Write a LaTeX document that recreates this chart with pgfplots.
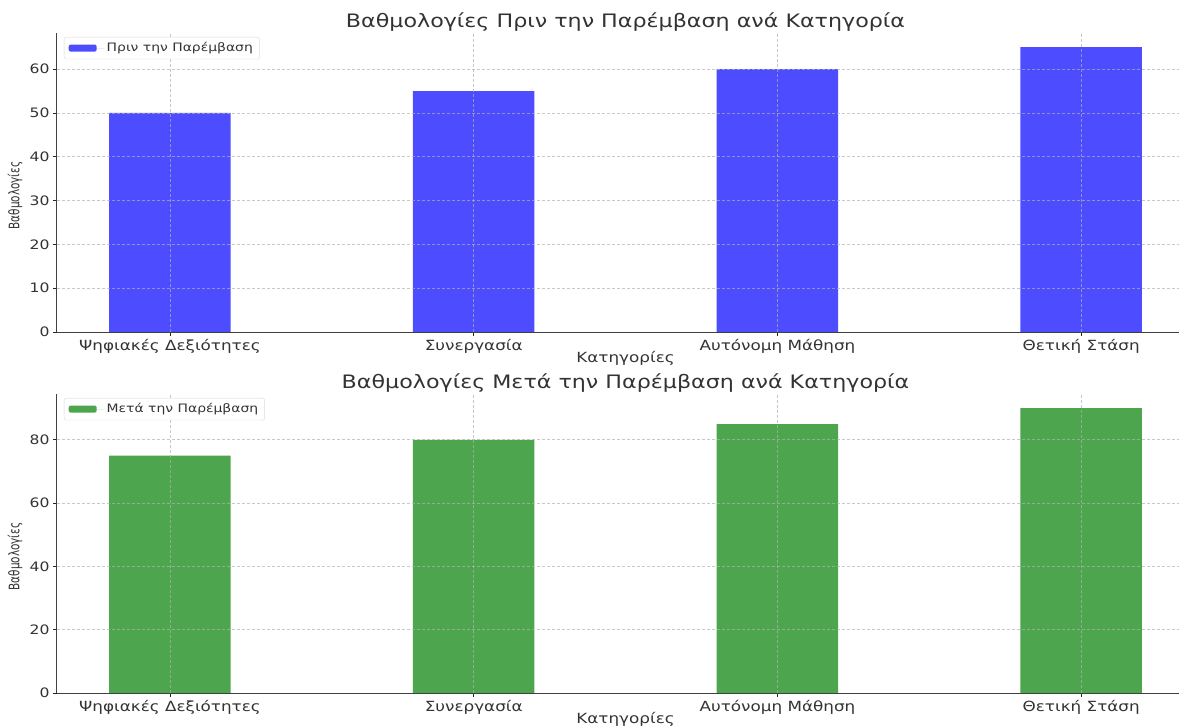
\documentclass[border=0pt]{standalone}
\usepackage{fontspec}
\setmainfont{DejaVu Sans}[FakeStretch=1.2]
\usepackage{graphicx}
\usepackage{pgfplots}
\pgfplotsset{compat=1.18}

\definecolor{barblue}{RGB}{77,77,255}
\definecolor{bargreen}{RGB}{77,166,77}
\definecolor{gridc}{RGB}{176,176,176}
\definecolor{txt}{RGB}{51,51,51}

\pgfplotsset{
  mystyle/.style={
    scale only axis, width=1122pt, height=299pt,
    xmin=-0.372, xmax=3.322, ymin=0,
    axis x line*=bottom, axis y line*=left,
    axis line style={black!75, line width=1pt},
    xtick={0,1,2,3},
    xticklabels={Ψηφιακές Δεξιότητες, Συνεργασία, Αυτόνομη Μάθηση, Θετική Στάση},
    tick style={black!85, line width=0.8pt},
    tick align=outside, major tick length=4pt,
    grid=major,
    major grid style={gridc, opacity=0.7, dash pattern=on 3pt off 2pt, line width=0.8pt},
    axis on top,
    tick label style={font=\fontsize{13}{15}\selectfont, text=txt},
    xticklabel style={font=\fontsize{14}{16}\selectfont},
    /pgf/number format/assume math mode=true,
    title style={at={(axis description cs:0.5,1)}, anchor=base, xshift=7.5pt, yshift=-1pt, font=\fontsize{18.5}{21}\selectfont, text=txt},
    xlabel style={at={(axis description cs:0.5,0)}, anchor=base, xshift=7.5pt, yshift=-30pt, font=\fontsize{14}{16}\selectfont, text=txt},
    every axis y label/.style={at={([xshift=-42pt,yshift=-13pt]axis description cs:0,0.5)}, rotate=90, anchor=center, font=\fontsize{14.5}{16}\selectfont, text=txt},
    legend style={at={(axis description cs:0,1)}, anchor=north west, xshift=7pt, yshift=-4pt,
      rounded corners=2pt, draw=black!15, fill=white,
      font=\fontsize{11.6}{14}\selectfont, text=txt, inner xsep=4.5pt, inner ysep=3.5pt},
    legend image code/.code={\fill[##1] (0pt,-3.5pt) rectangle (28pt,3.5pt); \path (0pt,0pt) -- (36pt,0pt);},
    xlabel={Κατηγορίες},
    ylabel={\scalebox{0.6}[1]{Βαθμολογίες}},
  }
}

\begin{document}
\begin{tikzpicture}
\begin{axis}[mystyle, name=top, at={(0pt,0pt)}, anchor=south west,
  ymax=68.25, ytick={0,10,...,60},
  title={Βαθμολογίες Πριν την Παρέμβαση ανά Κατηγορία}]
\addplot[ybar, bar width=121.5pt, fill=barblue, draw=none] coordinates {(0,50) (1,55) (2,60) (3,65)};
\addlegendentry{Πριν την Παρέμβαση}
\end{axis}
\begin{axis}[mystyle, name=bottom, at={(0pt,-361pt)}, anchor=south west,
  ymax=94.5, ytick={0,20,...,80},
  title={Βαθμολογίες Μετά την Παρέμβαση ανά Κατηγορία}]
\addplot[ybar, bar width=121.5pt, fill=bargreen, draw=none] coordinates {(0,75) (1,80) (2,85) (3,90)};
\addlegendentry{Μετά την Παρέμβαση}
\end{axis}
\pgfresetboundingbox
\path (-57pt,-394pt) rectangle (1122pt,332pt);
\end{tikzpicture}
\end{document}
